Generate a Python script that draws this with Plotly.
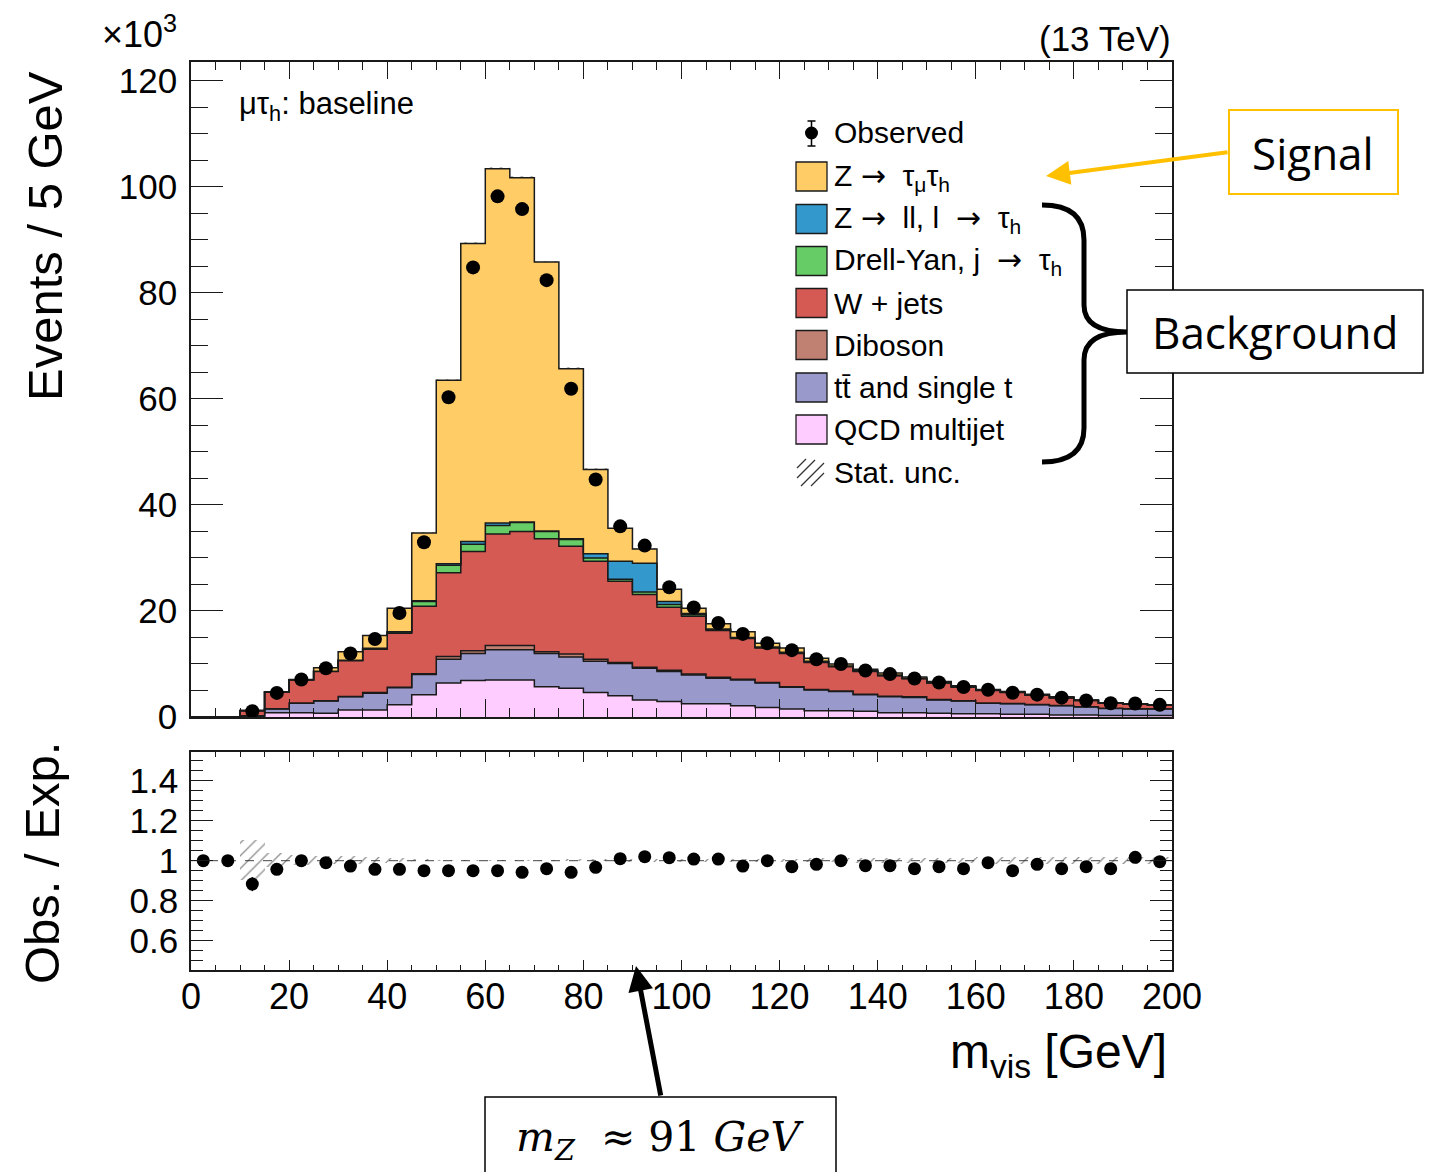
import plotly.graph_objects as go

W, H = 1443, 1172

# ---------------- data (units: 10^3 events per 5 GeV bin, bins 0-5 ... 195-200) ----------------
bin_edges = [0, 5, 10, 15, 20, 25, 30, 35, 40, 45, 50, 55, 60, 65, 70, 75, 80, 85, 90, 95, 100,
             105, 110, 115, 120, 125, 130, 135, 140, 145, 150, 155, 160, 165, 170, 175, 180, 185, 190, 195, 200]

qcd_multijet = [0, 0, 0.10, 0.80, 0.80, 0.70, 1.30, 1.30, 2.30, 4.20, 6.40, 6.90, 7.00, 7.00, 5.70, 5.40, 4.60, 4.00, 3.20, 2.90,
                2.50, 2.50, 2.10, 1.80, 1.50, 1.20, 1.20, 1.10, 0.80, 0.80, 0.70, 0.60, 0.60, 0.50, 0.50, 0.40, 0.40, 0.30, 0.30, 0.30]
ttbar_single_t = [0, 0, 0.15, 0.70, 1.80, 2.30, 2.50, 3.20, 3.20, 3.80, 4.50, 5.10, 5.70, 5.70, 6.30, 5.90, 5.90, 6.10, 6.00, 5.70,
                  5.40, 4.80, 4.90, 4.60, 4.10, 3.90, 3.60, 3.10, 3.00, 2.90, 2.50, 2.40, 2.00, 2.00, 1.80, 1.70, 1.50, 1.30, 1.20, 1.20]
diboson = [0, 0, 0.00, 0.05, 0.05, 0.05, 0.05, 0.10, 0.10, 0.15, 0.50, 0.50, 0.80, 0.80, 0.30, 0.60, 0.40, 0.20, 0.20, 0.20,
           0.20, 0.20, 0.10, 0.10, 0.10, 0.10, 0.10, 0.10, 0.10, 0.10, 0.10, 0.05, 0.05, 0.05, 0.05, 0.05, 0.05, 0.05, 0.05, 0.05]
w_jets = [0, 0, 0.95, 3.15, 4.35, 5.55, 6.75, 8.20, 10.20, 12.75, 15.80, 18.70, 21.00, 21.50, 21.30, 20.30, 18.50, 15.30, 13.70, 11.90,
          10.90, 8.80, 7.70, 6.50, 6.30, 5.10, 4.60, 4.30, 3.90, 3.40, 3.10, 2.55, 2.35, 2.05, 1.75, 1.45, 1.15, 0.95, 0.85, 0.65]
drell_yan_j_tau = [0, 0, 0.00, 0.00, 0.02, 0.05, 0.10, 0.15, 0.25, 0.90, 1.40, 1.40, 1.60, 1.70, 1.40, 1.30, 0.60, 0.40, 0.50, 0.50,
                   0.30, 0.20, 0.10, 0.10, 0.10, 0.10, 0.05, 0.05, 0.05, 0.05, 0.05, 0.05, 0.05, 0.05, 0.05, 0.05, 0.03, 0.03, 0.03, 0.03]
z_ll_l_tau = [0, 0, 0.00, 0.00, 0.00, 0.00, 0.02, 0.03, 0.05, 0.15, 0.30, 0.50, 0.50, 0.10, 0.10, 0.10, 0.80, 3.40, 5.40, 0.60,
              0.20, 0.10, 0.10, 0.10, 0.10, 0.10, 0.05, 0.05, 0.05, 0.05, 0.05, 0.05, 0.05, 0.05, 0.05, 0.05, 0.02, 0.02, 0.02, 0.02]
z_tautau = [0, 0, 0.05, 0.05, 0.05, 0.65, 1.60, 2.40, 4.40, 12.75, 34.60, 56.20, 66.80, 64.90, 50.70, 32.10, 15.90, 6.20, 2.70, 2.30,
            1.00, 1.00, 1.10, 0.70, 0.80, 0.60, 0.40, 0.30, 0.40, 0.25, 0.20, 0.20, 0.10, 0.10, 0.10, 0.10, 0.05, 0.05, 0.05, 0.05]

observed = [None, None, 1.10, 4.55, 7.07, 9.20, 11.99, 14.72, 19.62, 32.97, 60.30, 84.80, 98.20, 95.80, 82.40, 61.90, 44.80, 35.96, 32.33, 24.46,
            20.66, 17.74, 15.67, 13.90, 12.61, 10.90, 10.00, 8.78, 8.09, 7.25, 6.50, 5.66, 5.15, 4.56, 4.22, 3.65, 3.10, 2.59, 2.54, 2.29]

ratio = [1.00, 1.00, 0.883, 0.957, 1.00, 0.99, 0.973, 0.957, 0.957, 0.95, 0.95, 0.95, 0.95, 0.942, 0.96, 0.942, 0.967, 1.01, 1.02, 1.015,
         1.008, 1.008, 0.973, 1.00, 0.97, 0.982, 1.00, 0.975, 0.975, 0.96, 0.97, 0.96, 0.99, 0.95, 0.982, 0.96, 0.97, 0.96, 1.017, 0.995]
ratio_err = [0, 0, 0.035, 0.015, 0.012, 0.010, 0.009, 0.008, 0.007, 0.005, 0.004, 0.003, 0.003, 0.003, 0.003, 0.004, 0.005, 0.005, 0.006, 0.006,
             0.007, 0.008, 0.008, 0.009, 0.009, 0.010, 0.010, 0.011, 0.011, 0.012, 0.012, 0.013, 0.014, 0.015, 0.015, 0.016, 0.018, 0.019, 0.020, 0.021]
stat_unc_rel = [0, 0, 0.100, 0.035, 0.025, 0.020, 0.020, 0.015, 0.010, 0.005, 0.004, 0.004, 0.004, 0.004, 0.004, 0.005, 0.005, 0.006, 0.006, 0.006,
                0.007, 0.007, 0.008, 0.008, 0.008, 0.010, 0.010, 0.012, 0.012, 0.012, 0.014, 0.014, 0.016, 0.016, 0.017, 0.017, 0.018, 0.018, 0.018, 0.018]

y_ticks_main = [0, 20, 40, 60, 80, 100, 120]
y_ticks_ratio = [0.6, 0.8, 1.0, 1.2, 1.4]
y_ticktext_ratio = ["0.6", "0.8", "1", "1.2", "1.4"]
x_ticks = [0, 20, 40, 60, 80, 100, 120, 140, 160, 180, 200]

ARW = "<span style='font-family:DejaVu Sans'>\u2192</span>"
components = [
    ("QCD multijet", qcd_multijet, "#FFCCFF"),
    ("tt\u0304 and single t", ttbar_single_t, "#9999CC"),
    ("Diboson", diboson, "#C08173"),
    ("W + jets", w_jets, "#D65A54"),
    (f"Drell-Yan, j  {ARW}  \u03c4<sub>h</sub>", drell_yan_j_tau, "#66CC66"),
    (f"Z {ARW}  ll, l  {ARW}  \u03c4<sub>h</sub>", z_ll_l_tau, "#3399CC"),
    (f"Z {ARW}  \u03c4<sub>\u03bc</sub>\u03c4<sub>h</sub>", z_tautau, "#FFCC66"),
]

# ---------------- helpers ----------------
def px(x):
    return x / W

def py(y):
    return 1 - y / H

FONT = "Liberation Sans, Arial, Helvetica, sans-serif"
LINE = "#1a1a1a"

centers = [(a + b) / 2 for a, b in zip(bin_edges[:-1], bin_edges[1:])]
nb = len(centers)

fig = go.Figure()

# ---------------- stacked histogram ----------------
cum = [0.0] * nb
for i, (name, vals, col) in enumerate(components):
    cum = [c + v for c, v in zip(cum, vals)]
    fig.add_trace(go.Scatter(
        x=bin_edges, y=cum + [cum[-1]], mode="lines",
        line=dict(shape="hv", color=LINE, width=1.5),
        fill="tozeroy" if i == 0 else "tonexty", fillcolor=col,
        name=name, hoverinfo="skip", xaxis="x", yaxis="y"))
total = cum

# stat. unc. hatch on top of the stack
idx = [i for i in range(nb) if total[i] > 0]
fig.add_trace(go.Bar(
    x=[centers[i] for i in idx],
    y=[2 * total[i] * stat_unc_rel[i] for i in idx],
    base=[total[i] * (1 - stat_unc_rel[i]) for i in idx],
    width=5, xaxis="x", yaxis="y",
    marker=dict(color="rgba(0,0,0,0)", line=dict(width=0),
                pattern=dict(shape="/", fgcolor="#333", bgcolor="rgba(0,0,0,0)", size=7, solidity=0.2)),
    hoverinfo="skip"))

# observed data
obs_idx = [i for i in range(nb) if observed[i] is not None]
fig.add_trace(go.Scatter(
    x=[centers[i] for i in obs_idx], y=[observed[i] for i in obs_idx],
    mode="markers", marker=dict(size=14, color="black"),
    xaxis="x", yaxis="y", hoverinfo="skip"))

# ---------------- ratio panel ----------------
fig.add_trace(go.Bar(
    x=[centers[i] for i in idx],
    y=[2 * stat_unc_rel[i] for i in idx],
    base=[1 - stat_unc_rel[i] for i in idx],
    width=5, xaxis="x2", yaxis="y2",
    marker=dict(color="rgba(0,0,0,0)", line=dict(width=0),
                pattern=dict(shape="/", fgcolor="#222", bgcolor="rgba(0,0,0,0)", size=9, solidity=0.15)),
    hoverinfo="skip"))

fig.add_trace(go.Scatter(
    x=centers, y=ratio, mode="markers",
    marker=dict(size=13, color="black"),
    error_y=dict(type="data", array=ratio_err, color="black", thickness=1.5, width=0),
    xaxis="x2", yaxis="y2", hoverinfo="skip"))

shapes = []
shapes.append(dict(type="line", xref="x2", yref="y2", x0=0, x1=200, y0=1, y1=1,
                   line=dict(color="#444", width=1, dash="dash"), layer="below"))

# ---------------- axes ----------------
xdom = [px(191), px(1172)]
axis_common = dict(showline=True, linecolor=LINE, linewidth=1.5, mirror="ticks", automargin=False,
                   ticks="inside", tickcolor=LINE, showgrid=False, zeroline=False,
                   tickfont=dict(family=FONT, size=35, color="black"))

layout = dict(
    width=W, height=H, autosize=False,
    margin=dict(l=0, r=0, t=0, b=0, pad=0),
    paper_bgcolor="white", plot_bgcolor="white",
    showlegend=False, barmode="overlay", bargap=0,
    xaxis=dict(domain=xdom, anchor="y", range=[0, 200], tickvals=x_ticks, showticklabels=False,
               ticklen=18, tickwidth=1.3,
               minor=dict(tickmode="linear", tick0=0, dtick=5, ticklen=9, ticks="inside", tickcolor=LINE, tickwidth=1.2),
               **axis_common),
    yaxis=dict(domain=[py(717), py(61.7)], anchor="x", range=[0, 123.6], tickvals=y_ticks_main,
               ticklen=32, tickwidth=1.3, ticklabelstandoff=5,
               minor=dict(tickmode="linear", tick0=0, dtick=5, ticklen=17, ticks="inside", tickcolor=LINE, tickwidth=1.2),
               **axis_common),
    xaxis2=dict(domain=xdom, anchor="y2", range=[0, 200], tickvals=x_ticks,
                ticklen=10, tickwidth=1.3, ticklabelstandoff=-6,
                minor=dict(tickmode="linear", tick0=0, dtick=5, ticklen=5, ticks="inside", tickcolor=LINE, tickwidth=1.2),
                **{**axis_common, "tickfont": dict(family=FONT, size=36, color="black")}),
    yaxis2=dict(domain=[py(970), py(752.3)], anchor="x2", range=[0.4535, 1.542],
                tickvals=y_ticks_ratio, ticktext=y_ticktext_ratio,
                ticklen=22, tickwidth=1.3, ticklabelstandoff=4,
                minor=dict(tickmode="linear", tick0=0, dtick=0.05, ticklen=12, ticks="inside", tickcolor=LINE, tickwidth=1.2),
                **axis_common),
)

annotations = []

def text(x, y, s, size, xanchor="left", yanchor="middle", family=FONT, angle=0, color="black"):
    annotations.append(dict(x=px(x), y=py(y), xref="paper", yref="paper", text=s, showarrow=False,
                            xanchor=xanchor, yanchor=yanchor, textangle=angle,
                            font=dict(family=family, size=size, color=color)))

# titles / labels
text(45, 236, "Events / 5 GeV", 49, xanchor="center", angle=-90)
text(42, 863, "Obs. / Exp.", 49, xanchor="center", angle=-90)
text(1169, 1055, "m<sub>vis</sub> [GeV]", 48, xanchor="right")
text(100, 32, "\u00d710<sup>3</sup>", 36)
text(1173, 38, "(13 TeV)", 35, xanchor="right")
text(237, 106, "\u03bc\u03c4<sub>h</sub>: baseline", 31)

# ---------------- legend ----------------
row_y = [133, 176.5, 219, 261, 303, 345, 387.5, 429.5, 472]
box_x0, box_x1 = 796, 827
legend_entries = ["Observed"] + [c[0] for c in reversed(components)] + ["Stat. unc."]
legend_colors = [None] + [c[2] for c in reversed(components)] + [None]
for k, (lab, col) in enumerate(zip(legend_entries, legend_colors)):
    yc = row_y[k]
    text(832, yc, lab, 30)
    if col is not None:
        shapes.append(dict(type="rect", xref="paper", yref="paper",
                           x0=px(box_x0), x1=px(box_x1), y0=py(yc + 14.5), y1=py(yc - 14.5),
                           fillcolor=col, line=dict(color=LINE, width=1.3)))

# observed legend marker
oy = row_y[0]
shapes.append(dict(type="line", xref="paper", yref="paper", x0=px(811.5), x1=px(811.5), y0=py(oy - 12), y1=py(oy + 13),
                   line=dict(color="black", width=1.5)))
for yy in (oy - 12, oy + 13):
    shapes.append(dict(type="line", xref="paper", yref="paper", x0=px(807.5), x1=px(815.5), y0=py(yy), y1=py(yy),
                       line=dict(color="black", width=1.5)))
shapes.append(dict(type="circle", xref="paper", yref="paper", x0=px(805), x1=px(818), y0=py(oy + 6.5), y1=py(oy - 6.5),
                   fillcolor="black", line=dict(color="black", width=0)))

# stat unc legend hatch
sy = row_y[-1]
for (x0, y0, x1, y1) in [(797, sy - 4, 806, sy - 13), (797, sy + 6, 815, sy - 12),
                         (801, sy + 14, 824, sy - 9), (811, sy + 14, 824, sy + 1)]:
    shapes.append(dict(type="line", xref="paper", yref="paper", x0=px(x0), y0=py(y0), x1=px(x1), y1=py(y1),
                       line=dict(color="#333", width=1.3)))

# ---------------- overlay annotations (Signal / Background / m_Z) ----------------
shapes.append(dict(type="rect", xref="paper", yref="paper", x0=px(1229), x1=px(1398), y0=py(194), y1=py(110),
                   fillcolor="white", line=dict(color="#FFC000", width=2), layer="above"))
text(1313, 153, "Signal", 44, xanchor="center", family="Open Sans, Lato, sans-serif")
annotations.append(dict(x=px(1046), y=py(176), xref="paper", yref="paper", ax=1229 - 1046, ay=152 - 176,
                        axref="pixel", ayref="pixel", text="", showarrow=True, arrowhead=2, arrowsize=1.2,
                        arrowwidth=4, arrowcolor="#FFC000"))

shapes.append(dict(type="rect", xref="paper", yref="paper", x0=px(1127), x1=px(1423), y0=py(373), y1=py(290),
                   fillcolor="white", line=dict(color="black", width=1.5), layer="above"))
text(1275, 332, "Background", 44, xanchor="center", family="Open Sans, Lato, sans-serif")

def P(x, y):
    return f"{px(x):.6f},{py(y):.6f}"

brace = (f"M {P(1042, 205)} Q {P(1084, 205)} {P(1084, 240)} L {P(1084, 305)} "
         f"Q {P(1084, 332)} {P(1127, 332)} Q {P(1084, 332)} {P(1084, 360)} "
         f"L {P(1084, 428)} Q {P(1084, 462)} {P(1042, 462)}")
shapes.append(dict(type="path", xref="paper", yref="paper", path=brace,
                   line=dict(color="black", width=5), layer="above"))

shapes.append(dict(type="rect", xref="paper", yref="paper", x0=px(485), x1=px(836), y0=py(1180), y1=py(1097),
                   fillcolor="white", line=dict(color="black", width=1.5), layer="above"))
text(660, 1140, "<i>m</i><sub><i>Z</i></sub>  \u2248 91 <i>GeV</i>", 41, xanchor="center",
     family="DejaVu Serif, Liberation Serif, serif")
annotations.append(dict(x=px(636), y=py(966), xref="paper", yref="paper", ax=661 - 636, ay=1097 - 966,
                        axref="pixel", ayref="pixel", text="", showarrow=True, arrowhead=2, arrowsize=1.0,
                        arrowwidth=5, arrowcolor="black"))

layout["shapes"] = shapes
layout["annotations"] = annotations
fig.update_layout(**layout)

fig.write_html("out.html")
